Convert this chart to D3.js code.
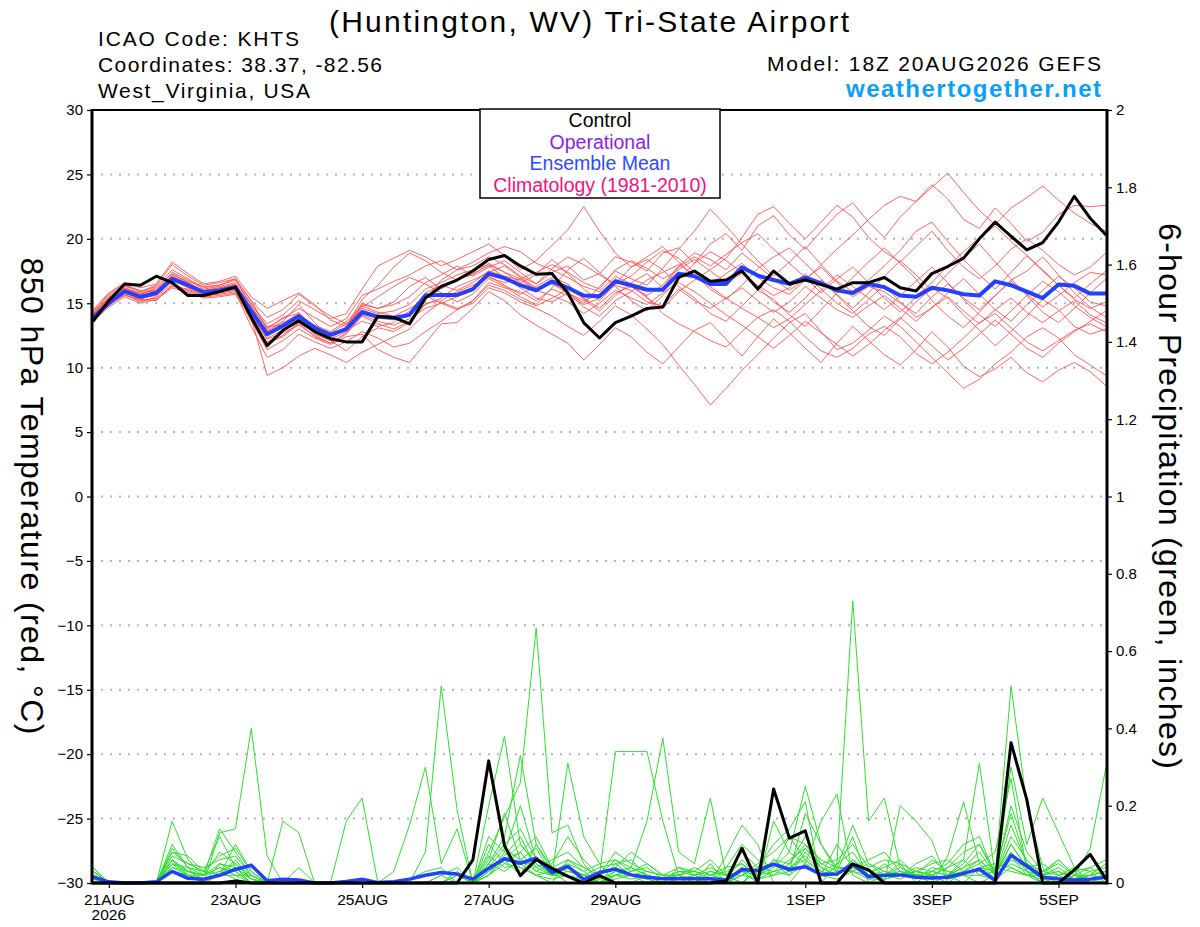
<!DOCTYPE html>
<html>
<head>
<meta charset="utf-8">
<script src="https://cdn.jsdelivr.net/npm/d3@7"></script>
<style>
  html, body { margin: 0; padding: 0; background: #fff; }
  svg { display: block; font-family: "Liberation Sans", Arial, Helvetica, sans-serif; }
</style>
</head>
<body>
<div id="chart"></div>
<script>
// GEFS plume: 850 hPa temperature + 6-hour precipitation, KHTS
const RUN_START = Date.UTC(2026, 7, 20, 18);   // 18Z 20AUG2026
const STEP_HOURS = 6;
const N_STEPS = 65;

const TICK_DATES = ["2026-08-21", "2026-08-23", "2026-08-25", "2026-08-27", "2026-08-29", "2026-09-01", "2026-09-03", "2026-09-05"];
const TEMP_TICKS = [-30, -25, -20, -15, -10, -5, 0, 5, 10, 15, 20, 25, 30];
const PRECIP_TICKS = [0, 0.2, 0.4, 0.6, 0.8, 1, 1.2, 1.4, 1.6, 1.8, 2];
const LEGEND_ITEMS = ["Control", "Operational", "Ensemble Mean", "Climatology (1981-2010)"];

// control run (black)
const controlTemp = [
  13.6,15.2,16.5,16.4,17.1,16.6,15.6,15.6,15.9,16.25,
  13.9,11.7,12.9,13.65,12.8,12.25,12.0,12.0,14.0,13.9,
  13.4,15.4,16.3,16.8,17.5,18.4,18.7,17.9,17.25,17.3,
  15.8,13.5,12.3,13.5,14.0,14.6,14.7,17.0,17.5,16.7,
  16.8,17.5,16.1,17.5,16.5,16.8,16.45,16.1,16.6,16.6,
  17.0,16.2,15.95,17.3,17.85,18.5,20.0,21.3,20.2,19.15,
  19.7,21.3,23.3,21.6,20.3];
const controlPrecip = [
  0,0,0,0,0,0,0,0,0,.005,
  0,0,0,0,0,0,0,0,0,0,
  0,0,0,0,.06,.316,.096,.019,.061,.038,
  .017,0,.019,0,0,0,0,0,0,0,
  .005,.09,0,.243,.116,.135,0,0,.049,.034,
  0,0,0,0,0,0,0,0,.363,.215,
  0,0,.034,.074,.01];

// ensemble mean (blue)
const meanTemp = [
  13.9,15.0,15.95,15.5,15.8,16.9,16.4,15.85,16.0,16.25,
  14.4,12.6,13.25,14.0,13.1,12.55,13.0,14.3,13.95,13.85,
  14.1,15.6,15.65,15.65,16.1,17.3,16.95,16.4,16.0,16.7,
  16.2,15.6,15.55,16.7,16.4,16.05,16.05,17.3,17.1,16.5,
  16.5,17.8,17.15,16.8,16.5,17.0,16.55,16.0,15.8,16.5,
  16.25,15.6,15.5,16.2,16.0,15.7,15.6,16.7,16.4,15.9,
  15.4,16.45,16.35,15.75,15.75];
const meanPrecip = [
  .016,.003,0,0,.003,.03,.012,.01,.02,.035,
  .046,.006,.01,.008,0,0,.004,.01,.001,.003,
  .01,.02,.027,.023,.01,.038,.063,.051,.064,.027,
  .043,.009,.027,.036,.021,.015,.011,.011,.011,.011,
  .008,.035,.032,.049,.035,.042,.022,.023,.049,.016,
  .02,.021,.015,.013,.015,.025,.036,.006,.072,.044,
  .015,.011,.008,.01,.015];

// ensemble members (red temperature, green precipitation)
const memberTemp = [
  [14.2,15.5,16.2,15.8,16.0,17.4,16.8,16.1,16.3,16.6, 15.0,13.1,13.8,14.6,13.9,13.2,13.8,15.6,16.1,16.7, 17.2,17.9,18.3,17.6,17.9,18.6,18.0,17.1,16.5,17.4, 17.9,16.8,17.3,18.6,18.2,17.5,18.9,19.3,18.1,19.6, 20.4,19.1,21.0,21.8,20.3,19.2,20.6,21.9,22.8,21.3, 20.1,21.7,22.9,24.2,23.1,21.5,20.8,22.4,21.2,19.8, 20.5,21.9,22.6,22.5,22.6],
  [14.0,14.8,15.7,15.2,15.4,16.3,16.1,15.6,15.7,15.9, 13.6,11.4,12.1,13.0,12.3,11.8,12.4,12.6,11.4,10.8, 10.4,11.9,13.4,13.5,14.6,15.9,15.2,14.1,13.3,12.6, 11.9,10.6,11.8,13.1,12.4,11.2,10.3,11.6,12.9,13.5, 12.2,10.9,12.4,13.8,12.7,11.5,10.4,11.9,13.2,12.1, 11.0,10.2,11.4,12.8,11.6,10.1,9.3,9.9,10.8,9.6, 8.9,9.8,10.4,9.7,8.6],
  [13.7,15.3,16.4,15.9,16.3,17.6,16.9,16.2,16.4,16.9, 14.8,12.9,13.6,14.9,13.5,12.2,12.8,14.9,14.6,15.1, 16.3,17.0,16.1,16.9,17.2,18.1,17.4,16.6,17.2,18.4, 17.3,16.1,15.2,16.5,17.8,18.4,17.6,16.3,15.4,14.2, 13.6,14.8,16.0,15.3,14.1,13.2,14.5,15.8,17.0,18.2, 19.3,18.1,16.9,15.2,14.0,13.1,14.3,15.6,16.8,17.5, 18.6,17.2,15.8,14.7,13.9],
  [14.5,15.8,16.6,16.2,16.5,18.2,17.3,16.5,16.7,17.1, 15.5,14.6,15.2,15.8,14.9,13.7,13.2,15.3,16.4,17.8, 18.9,18.3,17.4,16.8,17.3,17.9,17.0,16.2,15.4,15.1, 15.8,15.0,16.3,17.5,16.9,16.4,17.7,19.2,20.6,22.3, 21.0,19.6,18.3,17.1,18.2,19.4,18.0,16.7,15.9,16.8, 17.9,19.1,20.6,21.3,19.8,18.4,17.2,16.1,17.4,18.7, 17.6,16.4,15.3,14.6,15.1],
  [13.8,15.1,15.8,15.4,15.6,16.7,16.3,16.0,16.2,16.4, 14.1,12.3,12.9,13.8,12.6,12.1,11.3,12.4,13.1,12.8, 13.5,14.9,15.4,16.3,16.8,17.4,17.9,17.0,16.2,16.6, 15.9,14.7,14.0,15.2,15.9,16.8,17.4,18.0,17.2,16.1, 15.3,16.4,17.7,18.6,19.3,18.1,16.9,15.6,14.4,13.2, 12.5,13.8,15.1,16.2,15.4,14.1,12.9,11.7,12.8,14.0, 15.3,14.5,13.2,12.6,13.0],
  [14.3,15.6,16.3,16.0,15.9,17.1,16.6,15.9,16.1,16.4, 14.9,13.4,14.1,15.2,14.5,13.8,14.2,16.1,17.9,18.5, 19.1,18.6,17.9,18.4,19.0,19.6,18.7,17.6,18.3,19.5, 20.7,22.5,20.6,18.9,17.8,18.6,19.4,18.2,17.0,16.5, 17.3,18.1,17.0,16.2,15.7,16.8,18.0,19.2,20.3,21.5, 22.6,23.3,22.9,24.0,25.1,23.6,22.2,21.1,22.4,23.2, 24.1,23.0,22.0,21.2,20.6],
  [13.9,14.9,15.6,15.3,15.2,16.4,15.9,15.5,15.6,15.8, 13.2,10.8,11.4,12.6,12.0,11.5,12.0,12.8,12.3,11.6, 11.9,12.8,13.6,14.5,15.2,16.4,16.0,15.3,14.8,15.4, 16.1,15.4,14.6,15.8,16.3,15.5,14.2,13.4,12.8,12.1, 11.6,12.8,13.9,14.5,13.6,12.4,11.3,10.8,11.5,12.6, 13.2,12.4,11.1,10.3,11.2,12.3,13.5,14.2,13.1,12.0, 11.3,12.1,12.9,13.4,12.8],
  [14.1,15.4,16.1,15.7,16.1,17.0,16.5,15.8,16.0,16.3, 14.3,12.5,13.1,13.9,13.3,12.8,13.6,14.8,14.3,14.0, 14.6,15.3,16.8,17.6,18.2,18.9,19.4,19.0,18.1,17.6, 17.0,16.3,15.9,17.1,16.5,15.4,14.6,15.9,16.8,17.6, 18.5,20.1,21.9,22.5,21.2,20.0,21.3,22.6,21.7,20.1, 19.0,18.2,19.4,20.6,19.1,17.8,16.9,17.9,19.2,20.0, 19.1,18.0,17.2,17.8,18.9],
  [13.6,14.7,15.5,15.0,15.3,16.2,15.8,15.4,15.5,15.7, 13.9,9.4,10.0,10.9,11.5,11.0,10.4,11.2,11.8,12.4, 13.0,14.2,15.1,14.6,15.0,16.2,15.8,15.1,14.6,14.0, 13.2,12.5,13.6,14.8,14.1,13.0,11.8,10.2,8.7,7.1, 8.4,9.8,11.0,12.3,13.5,14.2,12.8,11.4,11.9,12.9, 14.0,13.2,12.0,10.8,9.6,8.4,9.1,10.3,11.2,12.4, 13.1,12.3,11.0,10.2,9.4],
  [14.0,15.2,16.0,15.6,15.7,16.8,16.2,15.7,15.9,16.1, 14.0,12.2,12.7,13.3,12.5,11.9,12.6,14.0,13.4,13.0, 13.6,15.0,15.2,15.9,16.4,17.0,16.6,16.9,17.4,18.0, 17.4,16.6,16.1,17.6,18.3,17.7,16.9,17.6,18.4,17.5, 16.6,17.3,16.4,15.6,16.2,17.3,16.1,15.0,14.2,15.3, 16.4,15.1,13.9,14.6,15.8,16.9,15.7,14.5,13.6,14.9, 16.0,17.1,16.2,15.1,14.8],
  [13.5,14.9,15.9,15.6,15.9,17.2,16.7,16.3,16.4,16.8, 15.2,13.9,14.5,15.7,14.8,14.0,13.4,14.7,15.5,16.3, 17.0,16.5,15.8,15.1,15.7,16.9,16.3,15.5,14.9,16.2, 17.6,18.5,17.4,16.3,15.2,14.4,15.6,16.9,18.1,19.0, 18.3,17.4,16.3,15.1,14.3,15.4,16.8,15.7,14.6,15.8, 17.1,18.3,17.2,16.0,17.3,18.5,19.6,18.2,16.9,15.6, 14.3,13.5,14.6,15.8,16.9],
  [14.4,15.7,16.5,15.9,16.4,18.0,17.1,16.4,16.6,16.9, 15.2,13.0,13.9,14.2,13.1,12.4,13.1,15.0,14.6,14.9, 15.5,16.6,17.2,17.9,17.1,17.8,18.3,17.4,16.5,17.7, 18.6,18.0,17.2,16.5,17.1,18.2,19.1,18.5,17.4,16.3, 15.4,14.6,13.9,13.1,13.8,14.9,16.0,17.2,16.3,15.4, 14.5,15.6,16.7,17.8,16.6,15.3,14.1,13.2,14.4,15.6, 16.7,15.9,14.8,13.9,13.2],
  [13.7,15.0,15.7,15.1,15.5,16.5,16.0,15.6,15.8,16.0, 13.7,11.9,12.4,13.4,12.9,12.6,12.9,13.6,13.2,13.5, 14.4,15.6,15.0,15.5,16.0,17.1,16.4,15.7,16.3,17.0, 16.5,15.3,14.4,15.6,16.6,17.3,16.2,17.8,18.6,17.9, 18.8,19.7,20.4,19.2,18.1,17.0,15.8,16.9,17.8,16.6, 15.4,14.3,15.5,16.6,17.9,19.0,20.1,21.0,19.8,18.7, 17.5,16.4,15.4,16.5,17.5],
  [14.2,15.3,16.0,15.5,15.9,17.0,16.4,15.9,16.1,16.3, 14.5,12.8,13.5,14.1,13.2,12.7,13.4,14.5,14.0,13.7, 14.0,15.8,16.4,16.0,16.6,17.5,17.1,16.8,16.0,15.6, 15.1,14.2,15.0,16.0,15.4,14.9,15.8,16.6,15.9,15.0, 14.1,13.3,12.4,11.5,12.5,13.6,12.7,11.8,10.9,11.8, 12.9,13.9,12.8,11.7,10.6,11.5,12.6,13.7,12.6,11.5, 10.8,11.9,12.8,13.6,14.4],
  [14.1,15.4,16.2,15.7,16.2,17.3,16.6,16.0,16.2,16.5, 14.6,13.2,13.3,14.3,13.0,12.2,13.2,14.6,14.2,14.4, 14.9,16.1,16.6,17.2,17.6,18.0,17.4,16.9,16.1,16.5, 15.8,15.2,15.7,16.9,16.3,15.6,16.4,17.9,18.9,18.4, 17.6,18.9,17.9,16.9,16.0,16.9,17.8,16.6,15.5,16.3, 15.9,15.0,14.2,15.5,16.5,15.4,14.5,15.6,16.7,15.7, 14.7,15.6,16.6,17.4,17.2],
  [13.8,15.0,15.8,15.3,15.7,16.8,16.3,15.7,15.9,16.1, 13.8,12.0,12.5,13.5,12.4,11.9,12.7,14.1,13.6,13.3, 13.8,14.6,15.0,14.5,15.2,16.6,16.2,15.9,15.2,16.1, 15.6,14.9,15.4,16.4,16.0,15.1,14.8,16.1,15.2,14.6, 15.4,16.2,15.2,14.3,15.1,16.3,15.4,14.5,13.9,14.8, 15.6,14.6,13.6,14.7,15.5,14.4,13.4,14.5,15.4,14.3, 13.5,14.4,15.2,14.1,13.5]
];
const memberPrecip = [
  [.03,0,0,0,0,.16,.06,.02,.14,.08, .02,0,0,.04,0,0,0,0,0,0, 0,.08,.51,.19,0,.05,.12,.33,.1,.03, 0,0,.02,.34,.34,.34,.16,.02,0,.05, 0,.03,0,.16,.08,.25,.1,.03,.12,0, .02,.05,0,0,.02,.06,.31,.02,.51,.2, .04,0,0,.02,.05],
  [.02,0,0,0,0,.1,.04,0,.13,.14, .4,.07,0,0,0,0,0,0,0,0, 0,0,.02,0,0,.2,.38,.1,.05,.02, .31,.12,.05,0,0,.02,0,0,0,0, .07,.15,.1,0,0,.05,.16,.23,.02,0, 0,.2,.16,.11,0,0,0,0,.3,.1, .22,.13,.04,0,0],
  [.04,0,0,0,0,.08,.07,.03,.02,.1, .03,0,.16,.13,0,0,.16,.22,0,.03, .15,.3,.05,.14,0,.08,.17,.26,.66,.13, .15,.05,0,.02,.04,.16,.375,.08,.05,.22, .02,0,.04,.1,.14,.21,0,.05,.73,.16, .22,.04,.02,0,.07,.21,.05,.08,.27,.03, 0,0,.02,.09,.3],
  [.02,0,0,0,0,.06,.02,0,.05,.03, 0,0,0,0,0,0,0,0,0,0, 0,0,0,.02,0,.03,.06,.1,.05,.02, .04,.02,0,.05,.02,0,0,0,0,0, 0,.02,.05,.08,.12,.1,.04,.02,.06,.03, 0,0,0,.03,.05,.1,.12,.02,.15,.05, .02,.06,.02,0,0],
  [.03,0,0,0,0,.05,.03,.02,.04,.02, .02,0,0,0,0,0,0,0,0,0, .01,.03,.04,0,0,.12,.08,.04,.02,0, .06,.04,.02,.08,.05,.03,.02,0,0,.02, .01,.04,.02,.05,.03,.18,.1,.04,.15,.05, .03,.02,.05,.07,.02,0,.04,.03,.07,.02, 0,0,.03,0,.02],
  [.02,0,0,0,0,.08,.05,.04,.06,.07, .02,0,0,0,0,0,0,0,0,0, 0,0,0,0,0,.05,.1,.14,.06,.03, .02,0,.03,.04,.02,.02,0,.04,.02,0, .04,.1,.06,.04,.08,.05,.02,.1,.04,.06, .08,.03,.02,.06,.03,.02,0,.02,.1,.04, .05,.02,.03,.04,.01],
  [.01,0,0,0,0,.04,.02,0,.03,.05, .01,0,0,0,0,0,0,0,0,0, 0,0,0,0,0,.02,.08,.2,.06,.02, .04,.02,0,.02,.03,.05,.02,.02,0,.03, .02,0,.03,.02,.05,.12,.05,.03,.03,.02, .02,.04,.02,.02,0,.03,.06,.02,.05,.03, .02,0,.01,.02,.01],
  [.03,0,0,0,0,.07,.05,.03,.12,.04, .01,0,0,0,0,0,0,0,0,0, 0,0,0,0,0,.1,.05,.08,.03,.05, .12,.06,.02,.06,.04,.02,.01,.02,.01,0, .01,.06,.02,.03,.04,.07,.03,.05,.08,.02, .03,.02,.04,.03,.02,.05,.1,.02,.12,.06, .02,.04,.01,0,0],
  [.02,0,0,0,0,.03,.02,0,.02,.04, 0,0,0,0,0,0,0,0,0,0, 0,0,0,.03,0,.06,.18,.06,.04,.02, .02,0,0,.03,.02,.01,0,0,.02,.01, 0,.04,.02,.06,.03,.09,.04,.02,.05,.03, .01,.02,.03,.02,.04,.06,.02,.03,.08,.03, 0,.02,0,.01,.02],
  [.02,0,0,0,0,.05,.02,.02,.03,.01, 0,0,0,0,0,0,0,0,0,0, 0,0,0,0,0,.04,.06,.02,.1,.04, .03,.02,.04,.05,.06,.02,0,.03,.03,.02, .03,.05,.02,.04,.12,.06,.02,.04,.03,.05, .02,.01,.03,.02,.01,.02,.04,.05,.04,.02, .03,.05,.02,.02,.03],
  [.03,0,0,0,0,.04,.03,.01,.02,.06, .01,0,0,0,0,0,0,0,0,0, 0,0,0,.02,0,.07,.04,.05,.02,.03, .05,.03,0,.02,.01,.02,.01,.01,.02,.04, .02,.02,.04,.05,.02,.08,.04,.02,.06,.02, .02,.03,.01,.04,.03,.02,.02,.01,.06,.04, .01,0,.02,.01,.02],
  [.02,0,0,0,0,.09,.04,.02,.08,.05, .02,0,0,0,0,0,0,0,0,0, 0,0,0,0,0,.03,.07,.12,.04,.06, .08,.04,.02,.04,.08,.05,.02,.04,.03,.06, .02,.03,.02,.06,.05,.1,.06,.04,.04,.03, .04,.06,.02,.01,.02,.04,.08,.02,.2,.08, .03,.02,.04,.03,0],
  [.04,0,0,0,0,.06,.03,.02,.04,.03, 0,0,0,0,0,0,0,0,0,0, 0,0,0,0,0,.05,.03,.06,.09,.02, .03,.02,.01,.02,.02,.03,.02,.02,.04,.02, .04,.05,.01,.02,.03,.04,.02,.03,.04,.02, .05,.02,.03,.05,.06,.03,.03,.04,.03,.02, .02,.03,.01,.03,.04],
  [.01,0,0,0,0,.03,.02,.01,.02,.02, 0,0,0,0,0,0,0,0,0,0, 0,0,0,0,0,.02,.05,.04,.02,.01, .02,.01,0,.01,.02,.01,0,.01,.01,.01, 0,.02,.01,.03,.02,.05,.02,.01,.03,.01, .01,.02,.02,.01,.02,.03,.05,.01,.04,.02, .01,.01,0,.01,0],
  [.02,0,0,0,0,.05,.04,.03,.07,.09, .03,0,0,0,0,0,0,0,0,0, 0,0,.02,.04,0,.02,.06,.08,.12,.04, .06,.03,.05,.06,.03,.04,.01,.03,.02,.03, .02,.08,.04,.03,.06,.09,.05,.06,.1,.04, .06,.05,.03,.02,.04,.08,.1,.03,.18,.05, .03,.06,.02,.04,.06],
  [.02,0,0,0,0,.06,.03,.02,.05,.04, .01,0,0,0,0,0,0,0,0,0, 0,0,0,0,0,.04,.09,.06,.03,.02, .04,.02,.01,.03,.04,.02,.01,.02,.03,.01, .01,.03,.02,.05,.04,.06,.03,.02,.05,.03, .02,.03,.02,.03,.02,.04,.06,.02,.1,.04, .02,.03,.01,.02,.03]
];

const W = 1200, H = 927;
const plot = { left: 92, right: 1107, top: 110, bottom: 883 };

const svg = d3.select("#chart").append("svg")
    .attr("width", W)
    .attr("height", H);
svg.append("rect").attr("width", W).attr("height", H).attr("fill", "#fff");

const times = d3.range(N_STEPS).map(i => new Date(RUN_START + i * STEP_HOURS * 3600e3));

const x = d3.scaleUtc()
    .domain([times[0], times[N_STEPS - 1]])
    .range([plot.left + 1, plot.right - 1]);
const yT = d3.scaleLinear().domain([-30, 30]).range([plot.bottom, plot.top]);
const yP = d3.scaleLinear().domain([0, 2]).range([plot.bottom, plot.top]);

// dotted grid (temperature ticks)
svg.append("g").selectAll("line")
    .data(TEMP_TICKS.filter(t => t > -30 && t < 30))
    .enter().append("line")
    .attr("x1", plot.left).attr("x2", plot.right)
    .attr("y1", d => yT(d)).attr("y2", d => yT(d))
    .attr("stroke", "#b4b4b4")
    .attr("stroke-width", 2)
    .attr("stroke-dasharray", "2,7");

const lineT = d3.line().x((d, i) => x(times[i])).y(d => yT(d));
const lineP = d3.line().x((d, i) => x(times[i])).y(d => yP(d));

// members
svg.append("g").selectAll("path")
    .data(memberTemp)
    .enter().append("path")
    .attr("d", lineT)
    .attr("fill", "none")
    .attr("stroke", "#ff4a4a")
    .attr("stroke-opacity", 0.85)
    .attr("stroke-width", 1);

svg.append("g").selectAll("path")
    .data(memberPrecip)
    .enter().append("path")
    .attr("d", lineP)
    .attr("fill", "none")
    .attr("stroke", "#2ee02e")
    .attr("stroke-width", 1);

// mean and control
svg.append("path").datum(meanTemp)
    .attr("d", lineT).attr("fill", "none")
    .attr("stroke", "#2340ff").attr("stroke-width", 4).attr("stroke-linejoin", "round");
svg.append("path").datum(controlTemp)
    .attr("d", lineT).attr("fill", "none")
    .attr("stroke", "#000").attr("stroke-width", 3).attr("stroke-linejoin", "round");
svg.append("path").datum(meanPrecip)
    .attr("d", lineP).attr("fill", "none")
    .attr("stroke", "#2340ff").attr("stroke-width", 3.5).attr("stroke-linejoin", "round");
svg.append("path").datum(controlPrecip)
    .attr("d", lineP).attr("fill", "none")
    .attr("stroke", "#000").attr("stroke-width", 3).attr("stroke-linejoin", "round");

// axes
const leftAxis = svg.append("g")
    .attr("transform", `translate(${plot.left},0)`)
    .call(d3.axisLeft(yT).tickValues(TEMP_TICKS).tickSize(5).tickPadding(4));
const rightAxis = svg.append("g")
    .attr("transform", `translate(${plot.right},0)`)
    .call(d3.axisRight(yP).tickValues(PRECIP_TICKS).tickSize(5).tickPadding(4)
        .tickFormat(d => String(+d.toFixed(1))));
const tickDates = TICK_DATES.map(s => new Date(s + "T00:00:00Z"));
const fmtDay = d3.utcFormat("%-d%b");
const bottomAxis = svg.append("g")
    .attr("transform", `translate(0,${plot.bottom})`)
    .call(d3.axisBottom(x).tickValues(tickDates).tickSize(5).tickPadding(6)
        .tickFormat(d => fmtDay(d).toUpperCase()));

[leftAxis, rightAxis, bottomAxis].forEach(g => {
    g.select(".domain").remove();
    g.selectAll(".tick line").attr("stroke", "#000").attr("stroke-width", 1.2);
    g.selectAll(".tick text")
        .attr("fill", "#000")
        .style("font-family", "'Liberation Sans', Arial, sans-serif")
        .style("font-size", "15px");
});
bottomAxis.selectAll(".tick text").style("font-size", "15.5px");

svg.append("text")
    .attr("x", x(tickDates[0])).attr("y", 920)
    .attr("text-anchor", "middle")
    .style("font-size", "15.5px")
    .text("2026");

// frame
const frame = svg.append("g").attr("stroke", "#000").attr("fill", "none");
frame.append("line").attr("x1", plot.left).attr("x2", plot.right).attr("y1", plot.top).attr("y2", plot.top).attr("stroke-width", 2);
frame.append("line").attr("x1", plot.left).attr("x2", plot.left).attr("y1", plot.top - 1).attr("y2", plot.bottom + 1.5).attr("stroke-width", 3);
frame.append("line").attr("x1", plot.right).attr("x2", plot.right).attr("y1", plot.top - 1).attr("y2", plot.bottom + 1.5).attr("stroke-width", 3);
frame.append("line").attr("x1", plot.left).attr("x2", plot.right).attr("y1", plot.bottom).attr("y2", plot.bottom).attr("stroke-width", 3);

// legend
svg.append("rect")
    .attr("x", 480).attr("y", plot.top - 1)
    .attr("width", 240).attr("height", 89)
    .attr("fill", "#fff").attr("stroke", "#000").attr("stroke-width", 1.5);
const legendColors = ["#000000", "#8c1ce6", "#2b4bff", "#f2137e"];
svg.append("g").selectAll("text")
    .data(LEGEND_ITEMS)
    .enter().append("text")
    .attr("x", 600)
    .attr("y", (d, i) => 127 + i * 21.5)
    .attr("text-anchor", "middle")
    .attr("fill", (d, i) => legendColors[i])
    .style("font-size", "19.5px")
    .text(d => d);

// header text
function label(txt, xPos, yPos, size, len, opts = {}) {
    const t = svg.append("text")
        .attr("x", xPos).attr("y", yPos)
        .style("font-size", size + "px")
        .attr("fill", opts.fill || "#000")
        .attr("text-anchor", opts.anchor || "start")
        .text(txt);
    if (len) t.attr("textLength", len).attr("lengthAdjust", "spacing");
    if (opts.bold) t.style("font-weight", "bold");
    if (opts.transform) t.attr("transform", opts.transform);
    return t;
}

label("(Huntington, WV) Tri-State Airport", 589, 32, 30, 520, { anchor: "middle" });
label("ICAO Code: KHTS", 98, 46, 21, 201);
label("Coordinates: 38.37, -82.56", 98, 72, 21, 284);
label("West_Virginia, USA", 98, 98, 21, 212);
label("Model: 18Z 20AUG2026 GEFS", 767, 71, 21, 334);
label("weathertogether.net", 846, 97, 24, 255, { bold: true, fill: "#0aa0f8" });

// axis titles (rotated, reading downward)
label("850 hPa Temperature (red, \u00B0C)", 0, 0, 32, 477,
    { anchor: "middle", transform: "translate(21,496) rotate(90)" });
label("6-hour Precipitation (green, inches)", 0, 0, 32, 546,
    { anchor: "middle", transform: "translate(1159,496) rotate(90)" });
</script>
</body>
</html>
